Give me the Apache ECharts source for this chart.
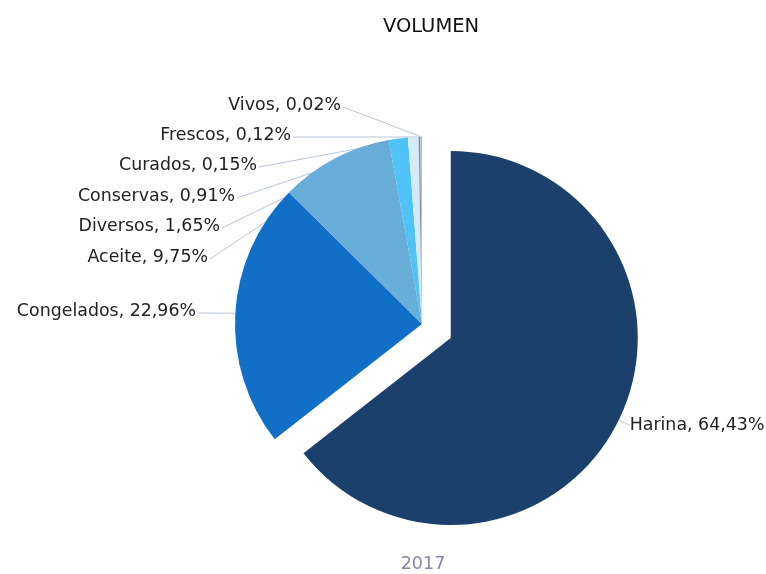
<!DOCTYPE html>
<html>
<head>
<meta charset="utf-8">
<title>VOLUMEN</title>
<script src="https://cdn.jsdelivr.net/npm/echarts@6/dist/echarts.min.js"></script>
<style>
  html, body { margin: 0; padding: 0; background: #fff; }
  #chart { width: 766px; height: 574px; }
</style>
</head>
<body>
<div id="chart"></div>
<script>
// datos
const categories = ['Harina', 'Congelados', 'Aceite', 'Diversos', 'Conservas', 'Curados', 'Frescos', 'Vivos']
const values = [64.43, 22.96, 9.75, 1.65, 0.91, 0.15, 0.12, 0.02]
const colors = ['#1a406b', '#116fc7', '#68acd8', '#4fc3f7', '#d6e9f6', '#7e8a96', '#9fd9c6', '#2e9c6a']
const yearLabel = '2017'

// geometría del pastel
const CX = 422
const CY = 324
const R = 187
const OFFSET = 32

// posición de las etiquetas de la izquierda (extremo derecho del texto)
// Harina (índice 0) usa la colocación por defecto de ECharts
const labelAnchors = [
    null,
    [196, 311],
    [208, 257],
    [220, 226],
    [235, 196],
    [257, 165],
    [291, 135],
    [341, 105]
]

const total = values.reduce((a, b) => a + b, 0)
const startAngles = []
let acc = 0
values.forEach(v => { startAngles.push(acc / total * Math.PI * 2); acc += v })

const arcPoint = (i) => {
    const a0 = startAngles[i]
    const a1 = a0 + values[i] / total * Math.PI * 2
    // las porciones grandes apuntan al centro del arco, las pequeñas al extremo
    const a = i < 2 ? (a0 + a1) / 2 : a1
    return [CX + R * Math.sin(a), CY - R * Math.cos(a)]
}

const chart = echarts.init(document.getElementById('chart'))

const option = {
    backgroundColor: '#fff',
    animation: false,
    title: [
        {
            text: 'VOLUMEN',
            left: 426,
            top: 12,
            textAlign: 'center',
            textStyle: { fontFamily: 'DejaVu Sans', fontSize: 19.5, fontWeight: 'normal', color: '#111' }
        },
        {
            text: yearLabel,
            left: 418,
            top: 550,
            textAlign: 'center',
            textStyle: { fontFamily: 'DejaVu Sans', fontSize: 17.5, fontWeight: 'normal', color: '#8585aa' }
        }
    ],
    series: [
        {
            type: 'pie',
            center: [CX, CY],
            radius: R,
            startAngle: 90,
            clockwise: true,
            selectedMode: 'single',
            selectedOffset: OFFSET,
            avoidLabelOverlap: false,
            emphasis: { disabled: true },
            data: categories.map((name, i) => ({
                name: name,
                value: values[i],
                selected: i === 0,
                itemStyle: { color: colors[i] }
            })),
            label: {
                show: true,
                position: 'outside',
                fontFamily: 'DejaVu Sans',
                fontSize: 17.4,
                color: '#222',
                distanceToLabelLine: 0,
                formatter: p => p.name + ', ' + p.value.toFixed(2).replace('.', ',') + '%'
            },
            labelLine: {
                show: true,
                length: 12,
                length2: 0,
                lineStyle: { color: '#b9c5d9', width: 1 }
            },
            labelLayout: params => {
                const i = params.dataIndex
                if (!labelAnchors[i]) return {}
                const [lx, ly] = labelAnchors[i]
                return {
                    x: lx,
                    y: ly,
                    align: 'right',
                    verticalAlign: 'middle',
                    labelLinePoints: [[lx + 2, ly + 2], arcPoint(i)]
                }
            }
        }
    ]
}

chart.setOption(option)

window.addEventListener('resize', () => {
    chart.resize()
})
</script>
</body>
</html>
